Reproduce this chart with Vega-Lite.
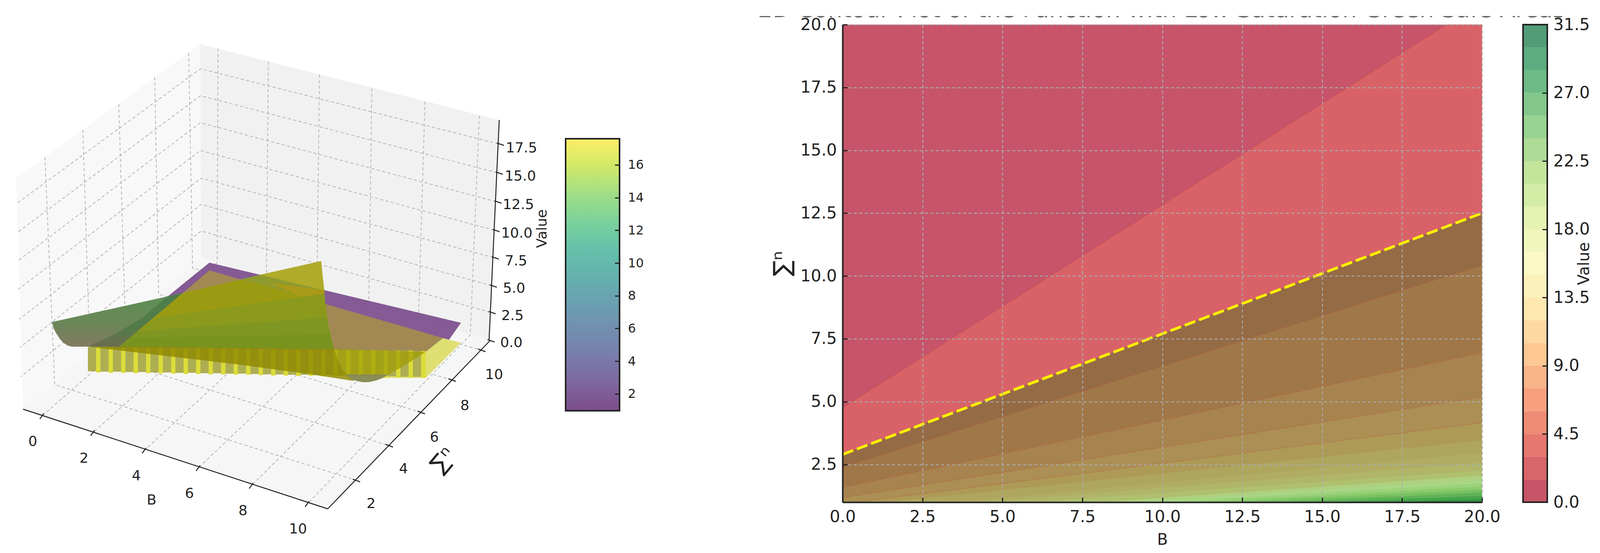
{
  "$schema": "https://vega.github.io/schema/vega-lite/v6.json",
  "padding": {"top": 41, "left": 0, "right": 0, "bottom": 0},
  "background": "white",
  "spacing": -4,
  "config": {
    "view": {"stroke": null},
    "font": "DejaVu Sans",
    "axis": {"labelFont": "DejaVu Sans", "titleFont": "DejaVu Sans", "titleFontWeight": "normal"},
    "concat": {"spacing": 0}
  },
  "datasets": {
    "panes": [
      {"face": "left", "i": 0, "u": 41, "v": 456}, {"face": "left", "i": 1, "u": 513, "v": 113}, {"face": "left", "i": 2, "u": 515, "v": 659}, {"face": "left", "i": 3, "u": 59, "v": 1047},
      {"face": "right", "i": 0, "u": 513, "v": 113}, {"face": "right", "i": 1, "u": 1278, "v": 307}, {"face": "right", "i": 2, "u": 1252, "v": 871}, {"face": "right", "i": 3, "u": 515, "v": 659},
      {"face": "floor", "i": 0, "u": 59, "v": 1047}, {"face": "floor", "i": 1, "u": 515, "v": 659}, {"face": "floor", "i": 2, "u": 1252, "v": 871}, {"face": "floor", "i": 3, "u": 839, "v": 1302}
    ],
    "grid3d": [
      {"seg": "x0", "i": 0, "u": 558, "v": 124}, {"seg": "x0", "i": 1, "u": 556, "v": 672}, {"seg": "x0", "i": 2, "u": 107, "v": 1065},
      {"seg": "x2", "i": 0, "u": 687, "v": 158}, {"seg": "x2", "i": 1, "u": 682, "v": 708}, {"seg": "x2", "i": 2, "u": 237, "v": 1108},
      {"seg": "x4", "i": 0, "u": 818, "v": 191}, {"seg": "x4", "i": 1, "u": 811, "v": 744}, {"seg": "x4", "i": 2, "u": 369, "v": 1153},
      {"seg": "x6", "i": 0, "u": 952, "v": 226}, {"seg": "x6", "i": 1, "u": 944, "v": 783}, {"seg": "x6", "i": 2, "u": 507, "v": 1198},
      {"seg": "x8", "i": 0, "u": 1088, "v": 260}, {"seg": "x8", "i": 1, "u": 1071, "v": 819}, {"seg": "x8", "i": 2, "u": 643, "v": 1243},
      {"seg": "x10", "i": 0, "u": 1227, "v": 296}, {"seg": "x10", "i": 1, "u": 1204, "v": 857}, {"seg": "x10", "i": 2, "u": 786, "v": 1290},
      {"seg": "y2", "i": 0, "u": 115, "v": 402}, {"seg": "y2", "i": 1, "u": 140, "v": 984}, {"seg": "y2", "i": 2, "u": 911, "v": 1229},
      {"seg": "y4", "i": 0, "u": 212, "v": 332}, {"seg": "y4", "i": 1, "u": 230, "v": 902}, {"seg": "y4", "i": 2, "u": 995, "v": 1140},
      {"seg": "y6", "i": 0, "u": 304, "v": 266}, {"seg": "y6", "i": 1, "u": 321, "v": 826}, {"seg": "y6", "i": 2, "u": 1077, "v": 1055},
      {"seg": "y8", "i": 0, "u": 396, "v": 197}, {"seg": "y8", "i": 1, "u": 406, "v": 753}, {"seg": "y8", "i": 2, "u": 1156, "v": 972},
      {"seg": "y10", "i": 0, "u": 483, "v": 135}, {"seg": "y10", "i": 1, "u": 493, "v": 686}, {"seg": "y10", "i": 2, "u": 1232, "v": 896},
      {"seg": "z175", "i": 0, "u": 1276, "v": 368}, {"seg": "z175", "i": 1, "u": 513, "v": 176}, {"seg": "z175", "i": 2, "u": 41, "v": 522},
      {"seg": "z150", "i": 0, "u": 1273, "v": 442}, {"seg": "z150", "i": 1, "u": 513, "v": 245}, {"seg": "z150", "i": 2, "u": 43, "v": 596},
      {"seg": "z125", "i": 0, "u": 1270, "v": 516}, {"seg": "z125", "i": 1, "u": 513, "v": 314}, {"seg": "z125", "i": 2, "u": 45, "v": 668},
      {"seg": "z100", "i": 0, "u": 1265, "v": 589}, {"seg": "z100", "i": 1, "u": 513, "v": 385}, {"seg": "z100", "i": 2, "u": 47, "v": 740},
      {"seg": "z75", "i": 0, "u": 1263, "v": 659}, {"seg": "z75", "i": 1, "u": 515, "v": 456}, {"seg": "z75", "i": 2, "u": 49, "v": 817},
      {"seg": "z50", "i": 0, "u": 1258, "v": 731}, {"seg": "z50", "i": 1, "u": 515, "v": 523}, {"seg": "z50", "i": 2, "u": 51, "v": 889},
      {"seg": "z25", "i": 0, "u": 1255, "v": 799}, {"seg": "z25", "i": 1, "u": 515, "v": 591}, {"seg": "z25", "i": 2, "u": 53, "v": 964}
    ],
    "axes3d": [
      {"seg": "xaxis", "i": 0, "u": 59, "v": 1047}, {"seg": "xaxis", "i": 1, "u": 839, "v": 1302},
      {"seg": "yaxis", "i": 0, "u": 839, "v": 1302}, {"seg": "yaxis", "i": 1, "u": 1255, "v": 871},
      {"seg": "zaxis", "i": 0, "u": 1278, "v": 307}, {"seg": "zaxis", "i": 1, "u": 1252, "v": 871},
      {"seg": "xt0", "i": 0, "u": 102, "v": 1072}, {"seg": "xt0", "i": 1, "u": 112, "v": 1058},
      {"seg": "xt2", "i": 0, "u": 232, "v": 1115}, {"seg": "xt2", "i": 1, "u": 242, "v": 1101},
      {"seg": "xt4", "i": 0, "u": 364, "v": 1160}, {"seg": "xt4", "i": 1, "u": 374, "v": 1146},
      {"seg": "xt6", "i": 0, "u": 502, "v": 1205}, {"seg": "xt6", "i": 1, "u": 512, "v": 1191},
      {"seg": "xt8", "i": 0, "u": 638, "v": 1250}, {"seg": "xt8", "i": 1, "u": 648, "v": 1236},
      {"seg": "xt10", "i": 0, "u": 781, "v": 1297}, {"seg": "xt10", "i": 1, "u": 791, "v": 1283},
      {"seg": "yt2", "i": 0, "u": 903, "v": 1226}, {"seg": "yt2", "i": 1, "u": 922, "v": 1233},
      {"seg": "yt4", "i": 0, "u": 987, "v": 1137}, {"seg": "yt4", "i": 1, "u": 1006, "v": 1144},
      {"seg": "yt6", "i": 0, "u": 1069, "v": 1052}, {"seg": "yt6", "i": 1, "u": 1088, "v": 1059},
      {"seg": "yt8", "i": 0, "u": 1148, "v": 969}, {"seg": "yt8", "i": 1, "u": 1167, "v": 976},
      {"seg": "yt10", "i": 0, "u": 1224, "v": 893}, {"seg": "yt10", "i": 1, "u": 1243, "v": 900},
      {"seg": "zt175", "i": 0, "u": 1272, "v": 366}, {"seg": "zt175", "i": 1, "u": 1290, "v": 372},
      {"seg": "zt150", "i": 0, "u": 1269, "v": 440}, {"seg": "zt150", "i": 1, "u": 1287, "v": 446},
      {"seg": "zt125", "i": 0, "u": 1266, "v": 514}, {"seg": "zt125", "i": 1, "u": 1284, "v": 520},
      {"seg": "zt100", "i": 0, "u": 1261, "v": 587}, {"seg": "zt100", "i": 1, "u": 1279, "v": 593},
      {"seg": "zt75", "i": 0, "u": 1259, "v": 657}, {"seg": "zt75", "i": 1, "u": 1277, "v": 663},
      {"seg": "zt50", "i": 0, "u": 1254, "v": 729}, {"seg": "zt50", "i": 1, "u": 1272, "v": 735},
      {"seg": "zt25", "i": 0, "u": 1251, "v": 797}, {"seg": "zt25", "i": 1, "u": 1269, "v": 803},
      {"seg": "zt0", "i": 0, "u": 1248, "v": 869}, {"seg": "zt0", "i": 1, "u": 1266, "v": 875}
    ],
    "labels3d": [
      {"t": "0", "u": 84, "v": 1130}, {"t": "2", "u": 215, "v": 1173}, {"t": "4", "u": 349, "v": 1218}, {"t": "6", "u": 485, "v": 1263}, {"t": "8", "u": 622, "v": 1307}, {"t": "10", "u": 763, "v": 1354},
      {"t": "B", "u": 388, "v": 1280},
      {"t": "2", "u": 950, "v": 1289}, {"t": "4", "u": 1033, "v": 1200}, {"t": "6", "u": 1112, "v": 1119}, {"t": "8", "u": 1190, "v": 1038}, {"t": "10", "u": 1265, "v": 959},
      {"t": "0.0", "u": 1309, "v": 877}, {"t": "2.5", "u": 1312, "v": 808}, {"t": "5.0", "u": 1316, "v": 738}, {"t": "7.5", "u": 1321, "v": 668}, {"t": "10.0", "u": 1323, "v": 597}, {"t": "12.5", "u": 1327, "v": 524}, {"t": "15.0", "u": 1332, "v": 451}, {"t": "17.5", "u": 1335, "v": 379}
    ],
    "facesBack": [
      {"face": "purple", "i": 0, "u": 536, "v": 672}, {"face": "purple", "i": 1, "u": 1180, "v": 826}, {"face": "purple", "i": 2, "u": 1100, "v": 940}, {"face": "purple", "i": 3, "u": 240, "v": 885}, {"face": "purple", "i": 4, "u": 430, "v": 758},
      {"face": "brown", "i": 0, "u": 536, "v": 692}, {"face": "brown", "i": 1, "u": 1134, "v": 865}, {"face": "brown", "i": 2, "u": 1090, "v": 900}, {"face": "brown", "i": 3, "u": 1090, "v": 920}, {"face": "brown", "i": 4, "u": 305, "v": 887},
      {"face": "pale", "i": 0, "u": 1134, "v": 865}, {"face": "pale", "i": 1, "u": 1180, "v": 877}, {"face": "pale", "i": 2, "u": 1090, "v": 967}, {"face": "pale", "i": 3, "u": 980, "v": 967}, {"face": "pale", "i": 4, "u": 1039, "v": 933}, {"face": "pale", "i": 5, "u": 1090, "v": 900}
    ],
    "strips": [
      {"kind": "dull", "u": 225, "u2": 246, "v": 888, "v2": 950}, {"kind": "bright", "u": 246, "u2": 257, "v": 888, "v2": 953},
      {"kind": "dull", "u": 257, "u2": 278, "v": 888, "v2": 951}, {"kind": "bright", "u": 278, "u2": 289, "v": 888, "v2": 954},
      {"kind": "dull", "u": 289, "u2": 310, "v": 889, "v2": 951}, {"kind": "bright", "u": 310, "u2": 321, "v": 889, "v2": 954},
      {"kind": "dull", "u": 321, "u2": 342, "v": 889, "v2": 952}, {"kind": "bright", "u": 342, "u2": 353, "v": 889, "v2": 955},
      {"kind": "dull", "u": 353, "u2": 374, "v": 890, "v2": 952}, {"kind": "bright", "u": 374, "u2": 385, "v": 890, "v2": 955},
      {"kind": "dull", "u": 385, "u2": 406, "v": 890, "v2": 953}, {"kind": "bright", "u": 406, "u2": 417, "v": 890, "v2": 956},
      {"kind": "dull", "u": 417, "u2": 438, "v": 890, "v2": 953}, {"kind": "bright", "u": 438, "u2": 449, "v": 890, "v2": 956},
      {"kind": "dull", "u": 449, "u2": 470, "v": 891, "v2": 954}, {"kind": "bright", "u": 470, "u2": 481, "v": 891, "v2": 957},
      {"kind": "dull", "u": 481, "u2": 502, "v": 891, "v2": 954}, {"kind": "bright", "u": 502, "u2": 513, "v": 891, "v2": 957},
      {"kind": "dull", "u": 513, "u2": 534, "v": 891, "v2": 955}, {"kind": "bright", "u": 534, "u2": 545, "v": 891, "v2": 958},
      {"kind": "dull", "u": 545, "u2": 566, "v": 892, "v2": 955}, {"kind": "bright", "u": 566, "u2": 577, "v": 892, "v2": 958},
      {"kind": "dull", "u": 577, "u2": 598, "v": 892, "v2": 956}, {"kind": "bright", "u": 598, "u2": 609, "v": 892, "v2": 959},
      {"kind": "dull", "u": 609, "u2": 630, "v": 893, "v2": 956}, {"kind": "bright", "u": 630, "u2": 641, "v": 893, "v2": 959},
      {"kind": "dull", "u": 641, "u2": 662, "v": 893, "v2": 957}, {"kind": "bright", "u": 662, "u2": 673, "v": 893, "v2": 960},
      {"kind": "dull", "u": 673, "u2": 694, "v": 893, "v2": 958}, {"kind": "bright", "u": 694, "u2": 705, "v": 893, "v2": 961},
      {"kind": "dull", "u": 705, "u2": 726, "v": 894, "v2": 958}, {"kind": "bright", "u": 726, "u2": 737, "v": 894, "v2": 961},
      {"kind": "dull", "u": 737, "u2": 758, "v": 894, "v2": 959}, {"kind": "bright", "u": 758, "u2": 769, "v": 894, "v2": 962},
      {"kind": "dull", "u": 769, "u2": 790, "v": 895, "v2": 959}, {"kind": "bright", "u": 790, "u2": 801, "v": 895, "v2": 962},
      {"kind": "dull", "u": 801, "u2": 822, "v": 895, "v2": 960}, {"kind": "bright", "u": 822, "u2": 833, "v": 895, "v2": 963},
      {"kind": "dull", "u": 833, "u2": 854, "v": 895, "v2": 960}, {"kind": "bright", "u": 854, "u2": 865, "v": 895, "v2": 963},
      {"kind": "dull", "u": 865, "u2": 886, "v": 896, "v2": 961}, {"kind": "bright", "u": 886, "u2": 897, "v": 896, "v2": 964},
      {"kind": "dull", "u": 897, "u2": 918, "v": 896, "v2": 961}, {"kind": "bright", "u": 918, "u2": 929, "v": 896, "v2": 964},
      {"kind": "dull", "u": 929, "u2": 950, "v": 896, "v2": 962}, {"kind": "bright", "u": 950, "u2": 961, "v": 896, "v2": 965},
      {"kind": "dull", "u": 961, "u2": 982, "v": 897, "v2": 963}, {"kind": "bright", "u": 982, "u2": 993, "v": 897, "v2": 966},
      {"kind": "dull", "u": 993, "u2": 1014, "v": 897, "v2": 963}, {"kind": "bright", "u": 1014, "u2": 1025, "v": 897, "v2": 966},
      {"kind": "dull", "u": 1025, "u2": 1046, "v": 897, "v2": 964}, {"kind": "bright", "u": 1046, "u2": 1057, "v": 897, "v2": 967},
      {"kind": "dull", "u": 1057, "u2": 1078, "v": 898, "v2": 964}, {"kind": "bright", "u": 1078, "u2": 1090, "v": 898, "v2": 967}
    ],
    "facesFront": [
      {"face": "frontSheet", "i": 0, "u": 200, "v": 884}, {"face": "frontSheet", "i": 1, "u": 855, "v": 893}, {"face": "frontSheet", "i": 2, "u": 866, "v": 923}, {"face": "frontSheet", "i": 3, "u": 877, "v": 947}, {"face": "frontSheet", "i": 4, "u": 907, "v": 975}, {"face": "frontSheet", "i": 5, "u": 797, "v": 958}, {"face": "frontSheet", "i": 6, "u": 613, "v": 933}, {"face": "frontSheet", "i": 7, "u": 393, "v": 907},
      {"face": "lobe", "i": 0, "u": 855, "v": 893}, {"face": "lobe", "i": 1, "u": 866, "v": 923}, {"face": "lobe", "i": 2, "u": 877, "v": 947}, {"face": "lobe", "i": 3, "u": 888, "v": 960}, {"face": "lobe", "i": 4, "u": 899, "v": 970}, {"face": "lobe", "i": 5, "u": 914, "v": 975}, {"face": "lobe", "i": 6, "u": 929, "v": 978}, {"face": "lobe", "i": 7, "u": 943, "v": 978}, {"face": "lobe", "i": 8, "u": 965, "v": 973}, {"face": "lobe", "i": 9, "u": 980, "v": 967}, {"face": "lobe", "i": 10, "u": 1039, "v": 933}, {"face": "lobe", "i": 11, "u": 1090, "v": 900},
      {"face": "tip", "i": 0, "u": 885, "v": 958}, {"face": "tip", "i": 1, "u": 899, "v": 970}, {"face": "tip", "i": 2, "u": 914, "v": 975}, {"face": "tip", "i": 3, "u": 929, "v": 978}, {"face": "tip", "i": 4, "u": 943, "v": 978}, {"face": "tip", "i": 5, "u": 965, "v": 973}, {"face": "tip", "i": 6, "u": 980, "v": 967}, {"face": "tip", "i": 7, "u": 995, "v": 958},
      {"face": "olive", "i": 0, "u": 467, "v": 750}, {"face": "olive", "i": 1, "u": 822, "v": 668}, {"face": "olive", "i": 2, "u": 826, "v": 707}, {"face": "olive", "i": 3, "u": 830, "v": 743}, {"face": "olive", "i": 4, "u": 833, "v": 780}, {"face": "olive", "i": 5, "u": 841, "v": 833}, {"face": "olive", "i": 6, "u": 848, "v": 867}, {"face": "olive", "i": 7, "u": 855, "v": 893}, {"face": "olive", "i": 8, "u": 305, "v": 887},
      {"face": "apex", "i": 0, "u": 666, "v": 703}, {"face": "apex", "i": 1, "u": 822, "v": 668}, {"face": "apex", "i": 2, "u": 826, "v": 707}, {"face": "apex", "i": 3, "u": 830, "v": 743},
      {"face": "overPurple", "i": 0, "u": 615, "v": 715}, {"face": "overPurple", "i": 1, "u": 666, "v": 703}, {"face": "overPurple", "i": 2, "u": 830, "v": 743}, {"face": "overPurple", "i": 3, "u": 832, "v": 770},
      {"face": "gold", "i": 0, "u": 687, "v": 723}, {"face": "gold", "i": 1, "u": 830, "v": 743}, {"face": "gold", "i": 2, "u": 830, "v": 752}, {"face": "gold", "i": 3, "u": 775, "v": 759},
      {"face": "fold0", "i": 0, "u": 775, "v": 759}, {"face": "fold0", "i": 1, "u": 830, "v": 752}, {"face": "fold0", "i": 2, "u": 832, "v": 770},
      {"face": "fold1", "i": 0, "u": 400, "v": 812}, {"face": "fold1", "i": 1, "u": 830, "v": 752}, {"face": "fold1", "i": 2, "u": 833, "v": 780}, {"face": "fold1", "i": 3, "u": 841, "v": 833}, {"face": "fold1", "i": 4, "u": 855, "v": 893}, {"face": "fold1", "i": 5, "u": 305, "v": 887},
      {"face": "fold2", "i": 0, "u": 350, "v": 848}, {"face": "fold2", "i": 1, "u": 837, "v": 812}, {"face": "fold2", "i": 2, "u": 848, "v": 867}, {"face": "fold2", "i": 3, "u": 855, "v": 893}, {"face": "fold2", "i": 4, "u": 305, "v": 887},
      {"face": "fold3", "i": 0, "u": 330, "v": 865}, {"face": "fold3", "i": 1, "u": 845, "v": 855}, {"face": "fold3", "i": 2, "u": 848, "v": 867}, {"face": "fold3", "i": 3, "u": 855, "v": 893}, {"face": "fold3", "i": 4, "u": 305, "v": 887}
    ],
    "wingLeft": [
      {"i": 0, "u": 133, "v": 824}, {"i": 1, "u": 467, "v": 750}, {"i": 2, "u": 305, "v": 887}, {"i": 3, "u": 184, "v": 887}, {"i": 4, "u": 173, "v": 884}, {"i": 5, "u": 162, "v": 877}, {"i": 6, "u": 153, "v": 867}, {"i": 7, "u": 144, "v": 853}, {"i": 8, "u": 137, "v": 840}
    ],
    "wingDark": [
      {"i": 0, "u": 430, "v": 758}, {"i": 1, "u": 467, "v": 750}, {"i": 2, "u": 305, "v": 887}, {"i": 3, "u": 225, "v": 887}, {"i": 4, "u": 239, "v": 880}, {"i": 5, "u": 298, "v": 853}, {"i": 6, "u": 364, "v": 813}
    ],
    "bands": [
      {"band": "b01", "B": 0, "top": 20}, {"band": "b01", "B": 20, "top": 20},
      {"band": "b02", "B": 0, "top": 4.75}, {"band": "b02", "B": 18.9, "top": 20}, {"band": "b02", "B": 20, "top": 20},
      {"band": "b03", "B": 0, "top": 2.9}, {"band": "b03", "B": 20, "top": 12.5},
      {"band": "b04", "B": 0, "top": 2.4}, {"band": "b04", "B": 20, "top": 10.43},
      {"band": "b05", "B": 0, "top": 1.59}, {"band": "b05", "B": 20, "top": 6.95},
      {"band": "b06", "B": 0, "top": 1.18}, {"band": "b06", "B": 20, "top": 5.19},
      {"band": "b07", "B": 0.4, "top": 1}, {"band": "b07", "B": 20, "top": 4.16},
      {"band": "b08", "B": 1.4, "top": 1}, {"band": "b08", "B": 20, "top": 3.46},
      {"band": "b09", "B": 3.5, "top": 1}, {"band": "b09", "B": 20, "top": 2.96},
      {"band": "b10", "B": 4.3, "top": 1}, {"band": "b10", "B": 20, "top": 2.58},
      {"band": "b11", "B": 5.9, "top": 1}, {"band": "b11", "B": 20, "top": 2.27},
      {"band": "b12", "B": 8, "top": 1}, {"band": "b12", "B": 20, "top": 2.06},
      {"band": "b13", "B": 9, "top": 1}, {"band": "b13", "B": 20, "top": 1.9},
      {"band": "b14", "B": 10, "top": 1}, {"band": "b14", "B": 20, "top": 1.75},
      {"band": "b15", "B": 11, "top": 1}, {"band": "b15", "B": 20, "top": 1.62},
      {"band": "b16", "B": 12, "top": 1}, {"band": "b16", "B": 20, "top": 1.5},
      {"band": "b17", "B": 13.5, "top": 1}, {"band": "b17", "B": 20, "top": 1.39},
      {"band": "b18", "B": 15, "top": 1}, {"band": "b18", "B": 20, "top": 1.25},
      {"band": "b19", "B": 16.5, "top": 1}, {"band": "b19", "B": 20, "top": 1.12}
    ],
    "levels": [
      {"lo": 0, "hi": 1.5, "mid": 0.75}, {"lo": 1.5, "hi": 3, "mid": 2.25}, {"lo": 3, "hi": 4.5, "mid": 3.75}, {"lo": 4.5, "hi": 6, "mid": 5.25}, {"lo": 6, "hi": 7.5, "mid": 6.75}, {"lo": 7.5, "hi": 9, "mid": 8.25}, {"lo": 9, "hi": 10.5, "mid": 9.75},
      {"lo": 10.5, "hi": 12, "mid": 11.25}, {"lo": 12, "hi": 13.5, "mid": 12.75}, {"lo": 13.5, "hi": 15, "mid": 14.25}, {"lo": 15, "hi": 16.5, "mid": 15.75}, {"lo": 16.5, "hi": 18, "mid": 17.25}, {"lo": 18, "hi": 19.5, "mid": 18.75}, {"lo": 19.5, "hi": 21, "mid": 20.25},
      {"lo": 21, "hi": 22.5, "mid": 21.75}, {"lo": 22.5, "hi": 24, "mid": 23.25}, {"lo": 24, "hi": 25.5, "mid": 24.75}, {"lo": 25.5, "hi": 27, "mid": 26.25}, {"lo": 27, "hi": 28.5, "mid": 27.75}, {"lo": 28.5, "hi": 30, "mid": 29.25}, {"lo": 30, "hi": 31.5, "mid": 30.75}
    ]
  },
  "vconcat": [
    {
      "width": 4146,
      "height": 5,
      "data": {"values": [{"t": "2D Contour Plot of the Function with Low Saturation Green Safe Areas", "u": 2973, "v": 44}]},
      "mark": {"type": "text", "clip": true, "fontSize": 59, "align": "center", "baseline": "alphabetic", "color": "#666666"},
      "encoding": {
        "x": {"field": "u", "type": "quantitative", "scale": {"domain": [0, 4146]}, "axis": null},
        "y": {"field": "v", "type": "quantitative", "scale": {"domain": [46, 41]}, "axis": null},
        "text": {"field": "t"}
      }
    },
    {
      "spacing": 0,
      "hconcat": [
        {
          "width": 1446,
          "height": 1352,
          "resolve": {"scale": {"fill": "independent"}},
          "encoding": {
            "x": {"field": "u", "type": "quantitative", "scale": {"domain": [0, 1446], "zero": false, "nice": false}, "axis": null},
            "y": {"field": "v", "type": "quantitative", "scale": {"domain": [1415, 63], "zero": false, "nice": false}, "axis": null}
          },
          "layer": [
            {
              "data": {"name": "panes"},
              "mark": {"type": "line", "strokeWidth": 0},
              "encoding": {
                "fill": {"field": "face", "type": "nominal", "legend": null, "scale": {"domain": ["left", "right", "floor"], "range": ["#f8f8f8", "#f1f1f1", "#f6f6f6"]}},
                "order": {"field": "i"}
              }
            },
            {
              "data": {"name": "grid3d"},
              "mark": {"type": "line", "stroke": "#b4b4b4", "strokeWidth": 2, "strokeDash": [8, 6]},
              "encoding": {"detail": {"field": "seg"}, "order": {"field": "i"}}
            },
            {
              "data": {"name": "axes3d"},
              "mark": {"type": "line", "stroke": "#222222", "strokeWidth": 2.5},
              "encoding": {"detail": {"field": "seg"}, "order": {"field": "i"}}
            },
            {
              "data": {"name": "facesBack"},
              "mark": {"type": "line", "strokeWidth": 0},
              "encoding": {
                "fill": {"field": "face", "type": "nominal", "legend": null, "sort": null, "scale": {"domain": ["purple", "brown", "pale"], "range": ["#7c4f8dee", "#a48c50f0", "#dddf73"]}},
                "order": {"field": "i"}
              }
            },
            {
              "data": {"name": "strips"},
              "mark": {"type": "rect"},
              "encoding": {
                "x2": {"field": "u2"},
                "y2": {"field": "v2"},
                "fill": {"field": "kind", "type": "nominal", "legend": null, "scale": {"domain": ["dull", "bright"], "range": ["#adae52", "#dcdc3a"]}}
              }
            },
            {
              "data": {"name": "facesFront"},
              "mark": {"type": "line", "strokeWidth": 0},
              "encoding": {
                "fill": {"field": "face", "type": "nominal", "legend": null, "sort": null, "scale": {
                  "domain": ["frontSheet", "lobe", "tip", "olive", "apex", "overPurple", "gold", "fold0", "fold1", "fold2", "fold3"],
                  "range": ["#8f8800d0", "#a09c00b8", "#84885ae0", "#9a9b12", "#b1ab2b", "#8f9a2e", "#a99a18", "#86942f", "#8b9a1c", "#7f9622", "#79931f"]
                }},
                "order": {"field": "i"}
              }
            },
            {
              "data": {"name": "wingLeft"},
              "mark": {"type": "line", "strokeWidth": 0, "fill": {"x1": 0, "y1": 0, "x2": 0, "y2": 1, "gradient": "linear", "stops": [{"offset": 0, "color": "#5c9055"}, {"offset": 0.6, "color": "#6b8658"}, {"offset": 1, "color": "#837a63"}]}},
              "encoding": {"order": {"field": "i"}}
            },
            {
              "data": {"name": "wingDark"},
              "mark": {"type": "line", "strokeWidth": 0, "fill": {"x1": 0, "y1": 0, "x2": 0, "y2": 1, "gradient": "linear", "stops": [{"offset": 0, "color": "#4c7f4b"}, {"offset": 0.7, "color": "#567a4a"}, {"offset": 1, "color": "#6d6c50"}]}},
              "encoding": {"order": {"field": "i"}}
            },
            {
              "data": {"name": "labels3d"},
              "mark": {"type": "text", "fontSize": 36, "color": "#222222"},
              "encoding": {"text": {"field": "t"}}
            },
            {
              "data": {"values": [{"t": "Value", "u": 1388, "v": 585}]},
              "mark": {"type": "text", "fontSize": 36, "angle": 270, "color": "#222222"},
              "encoding": {"text": {"field": "t"}}
            },
            {
              "data": {"values": [{"t": "∑ⁿ", "u": 1135, "v": 1178}]},
              "mark": {"type": "text", "fontSize": 58, "angle": 310, "color": "#222222"},
              "encoding": {"text": {"field": "t"}}
            }
          ]
        },
        {
          "spacing": 0,
          "vconcat": [
            {"width": 138, "height": 290, "data": {"values": [{}]}, "mark": {"type": "rect", "opacity": 0}, "encoding": {}},
            {
              "width": 138,
              "height": 696,
              "data": {"values": [{"lo": 0.97, "hi": 17.6}]},
              "encoding": {
                "x": {"datum": 0, "type": "quantitative", "scale": {"domain": [0, 1]}, "axis": null},
                "x2": {"datum": 1},
                "y": {"field": "lo", "type": "quantitative", "scale": {"domain": [0.97, 17.6], "zero": false, "nice": false}, "axis": {"orient": "right", "title": null, "values": [2, 4, 6, 8, 10, 12, 14, 16], "format": "d", "grid": false, "domain": false, "ticks": true, "tickSize": -12, "tickWidth": 3, "tickColor": "#222222", "labelFontSize": 32, "labelColor": "#222222", "labelPadding": 33, "zindex": 1}},
                "y2": {"field": "hi"}
              },
              "layer": [
                {"mark": {"type": "rect", "opacity": 0.7, "fill": {"x1": 0, "y1": 1, "x2": 0, "y2": 0, "gradient": "linear", "stops": [{"offset": 0, "color": "#440154"}, {"offset": 0.1, "color": "#482475"}, {"offset": 0.2, "color": "#414487"}, {"offset": 0.3, "color": "#355f8d"}, {"offset": 0.4, "color": "#2a788e"}, {"offset": 0.5, "color": "#21918c"}, {"offset": 0.6, "color": "#22a884"}, {"offset": 0.7, "color": "#44bf70"}, {"offset": 0.8, "color": "#7ad151"}, {"offset": 0.9, "color": "#bddf26"}, {"offset": 1, "color": "#fde725"}]}}},
                {"mark": {"type": "rect", "fill": null, "stroke": "#222222", "strokeWidth": 4}}
              ]
            }
          ]
        },
        {"width": 325, "height": 10, "data": {"values": [{}]}, "mark": {"type": "rect", "opacity": 0}, "encoding": {}},
        {
          "width": 1637,
          "height": 1222,
          "encoding": {
            "x": {"field": "B", "type": "quantitative", "scale": {"domain": [0, 20], "nice": false}, "axis": {"title": "B", "values": [0, 2.5, 5, 7.5, 10, 12.5, 15, 17.5, 20], "format": ".1f", "labelFlush": false, "tickSize": -12, "tickWidth": 3, "tickColor": "#222222", "domainColor": "#222222", "domainWidth": 4, "gridColor": "#aaaaaa", "gridWidth": 2.5, "gridDash": [8, 6], "labelFontSize": 42, "labelColor": "#222222", "labelPadding": 29, "titleFontSize": 40, "titleColor": "#222222", "titlePadding": 18, "zindex": 1}},
            "y": {"field": "top", "type": "quantitative", "scale": {"domain": [1, 20], "nice": false, "zero": false}, "axis": {"title": "∑ⁿ", "values": [2.5, 5, 7.5, 10, 12.5, 15, 17.5, 20], "format": ".1f", "tickSize": -12, "tickWidth": 3, "tickColor": "#222222", "domainColor": "#222222", "domainWidth": 4, "gridColor": "#aaaaaa", "gridWidth": 2.5, "gridDash": [8, 6], "labelFontSize": 42, "labelColor": "#222222", "labelPadding": 27, "titleFontSize": 60, "titleColor": "#222222", "titlePadding": 14, "zindex": 1}}
          },
          "layer": [
            {
              "data": {"name": "bands"},
              "mark": {"type": "area", "strokeWidth": 0},
              "encoding": {
                "y": {"field": "top", "type": "quantitative", "stack": null},
                "y2": {"datum": 1},
                "fill": {"field": "band", "type": "nominal", "legend": null, "scale": {
                  "domain": ["b01", "b02", "b03", "b04", "b05", "b06", "b07", "b08", "b09", "b10", "b11", "b12", "b13", "b14", "b15", "b16", "b17", "b18", "b19"],
                  "range": ["#c75469", "#d96268", "#956b45", "#a07748", "#a6834f", "#ab8f54", "#ad9a57", "#afa65e", "#b0ad62", "#b0b567", "#afc06f", "#aed07f", "#a9d685", "#9bd27a", "#8ccb6c", "#78c162", "#60b357", "#47a44b", "#2f9442"]
                }}
              }
            },
            {
              "data": {"name": "bands"},
              "transform": [{"filter": {"field": "band", "oneOf": ["b02", "b04", "b05", "b06", "b07"]}}],
              "mark": {"type": "line", "stroke": "#c0503c", "strokeWidth": 2, "opacity": 0.3},
              "encoding": {"detail": {"field": "band"}}
            },
            {
              "data": {"values": [{"B": 0, "top": 2.9}, {"B": 20, "top": 12.5}]},
              "mark": {"type": "line", "stroke": "#fff000", "strokeWidth": 7, "strokeDash": [29, 10]}
            }
          ]
        },
        {"width": 56, "height": 10, "data": {"values": [{}]}, "mark": {"type": "rect", "opacity": 0}, "encoding": {}},
        {
          "width": 62,
          "height": 1222,
          "encoding": {
            "x": {"datum": 0, "type": "quantitative", "scale": {"domain": [0, 1]}, "axis": null},
            "x2": {"datum": 1},
            "y": {"field": "lo", "type": "quantitative", "scale": {"domain": [0, 31.5], "nice": false}, "axis": {"orient": "right", "title": "Value", "titleAngle": 270, "values": [0, 4.5, 9, 13.5, 18, 22.5, 27, 31.5], "format": ".1f", "grid": false, "domain": false, "tickSize": -13, "tickWidth": 3, "tickColor": "#222222", "labelFontSize": 42, "labelColor": "#222222", "labelPadding": 28, "titleFontSize": 40, "titleColor": "#222222", "titlePadding": 6, "zindex": 1}},
            "y2": {"field": "hi"}
          },
          "layer": [
            {
              "data": {"name": "levels"},
              "mark": {"type": "rect", "opacity": 0.7},
              "encoding": {"fill": {"field": "mid", "type": "quantitative", "legend": null, "scale": {"scheme": "redyellowgreen", "domain": [0, 31.5]}}}
            },
            {
              "data": {"values": [{"lo": 0, "hi": 31.5}]},
              "mark": {"type": "rect", "fill": null, "stroke": "#222222", "strokeWidth": 4}
            }
          ]
        }
      ]
    }
  ]
}
